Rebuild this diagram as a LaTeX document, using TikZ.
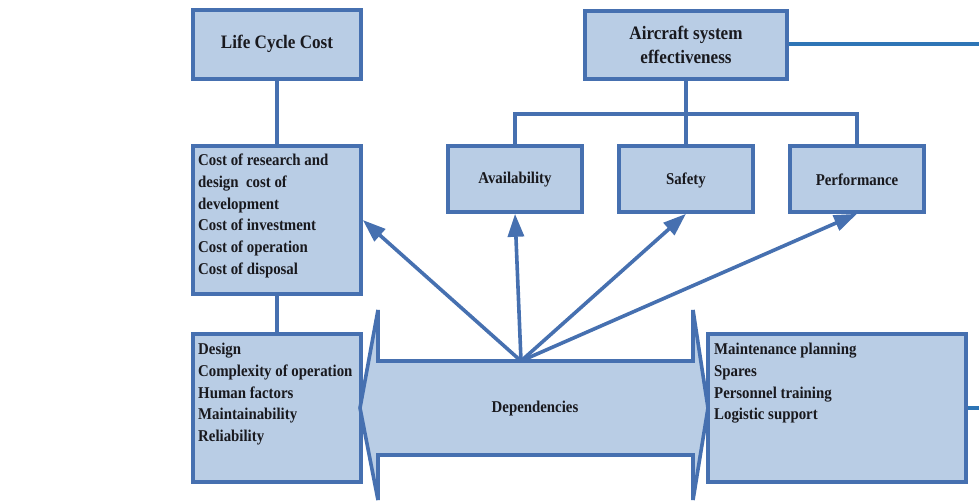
\documentclass[tikz,border=0pt]{standalone}
\usepackage{fontspec}
\setmainfont{Liberation Serif}[FakeStretch=0.9]
\usetikzlibrary{arrows.meta}
\definecolor{boxfill}{RGB}{185,205,229}
\definecolor{boxline}{RGB}{70,112,176}
\definecolor{outline}{RGB}{46,117,182}
\definecolor{txt}{RGB}{25,25,30}
\tikzset{
  box/.style={draw=boxline, fill=boxfill, line width=3.6pt, rectangle, inner sep=0pt},
  lbl/.style={text=txt, font=\fontsize{16.5}{21.7}\selectfont\bfseries, inner sep=0pt},
  biglbl/.style={text=txt, font=\fontsize{19}{24}\selectfont\bfseries, inner sep=0pt, align=center},
  listtxt/.style={lbl, align=left, anchor=north west},
  conn/.style={draw=boxline, line width=3.6pt},
  fan/.style={draw=boxline, line width=3.6pt, -{Triangle[length=23pt,width=16pt]}},
  outl/.style={draw=outline, line width=3.8pt}
}
\begin{document}
\begin{tikzpicture}[x=1pt,y=-1pt]
\useasboundingbox (0,0) rectangle (979,502);
% boxes
\node[box, minimum width=168pt, minimum height=69pt] (lcc) at (277,44.5) {};
\node[biglbl] (lcct) at (277,44) {Life Cycle Cost};
\node[box, minimum width=202pt, minimum height=68pt] (air) at (686,45) {};
\node[biglbl] (airt) at (686,45) {Aircraft system\\effectiveness};
\node[box, minimum width=168pt, minimum height=148pt] (cost) at (277,220) {};
\node[listtxt] (costt) at (198,154) {Cost of research and\\design\ \ cost of\\development\\Cost of investment\\Cost of operation\\Cost of disposal};
\node[box, minimum width=134pt, minimum height=66pt] (avail) at (515,179) {};
\node[lbl] (availt) at (515,180) {Availability};
\node[box, minimum width=134pt, minimum height=66pt] (safe) at (686,179) {};
\node[lbl] (safet) at (686,180) {Safety};
\node[box, minimum width=134pt, minimum height=66pt] (perf) at (857,179) {};
\node[lbl] (perft) at (857,180) {Performance};
\node[box, minimum width=168pt, minimum height=148pt] (dsg) at (277,408) {};
\node[listtxt] (dsgt) at (198,343) {Design\\Complexity of operation\\Human factors\\Maintainability\\Reliability};
\node[box, minimum width=258pt, minimum height=148pt] (mnt) at (837,408) {};
\node[listtxt] (mntt) at (714,343) {Maintenance planning\\Spares\\Personnel training\\Logistic support};
% dependencies double arrow
\filldraw[draw=boxline, fill=boxfill, line width=3.6pt, line join=miter]
  (378,310) -- (378,361) -- (693,361) -- (693,310) -- (708,408) -- (693,500)
  -- (693,455) -- (378,455) -- (378,500) -- (360,408) -- cycle;
\node[lbl] (dep) at (535,409) {Dependencies};
\coordinate (apex) at (521,361);
% connectors
\draw[conn] (lcc.south) -- (cost.north);
\draw[conn] (cost.south) -- (dsg.north);
\draw[conn] (air.south) -- (safe.north);
\draw[conn] (avail.north) -- ++(0,-30) -| (perf.north);
\coordinate (airend) at (979,44);
\coordinate (mntend) at (979,408);
\draw[outl] (air.east |- airend) -- (airend);
\draw[outl] (mnt.east) -- (mntend);
% fan arrows
\draw[fan] (apex) -- (cost.east);
\draw[fan] (apex) -- (avail.south);
\draw[fan] (apex) -- (safe.south);
\draw[fan] (apex) -- (perf.south);
\end{tikzpicture}
\end{document}
